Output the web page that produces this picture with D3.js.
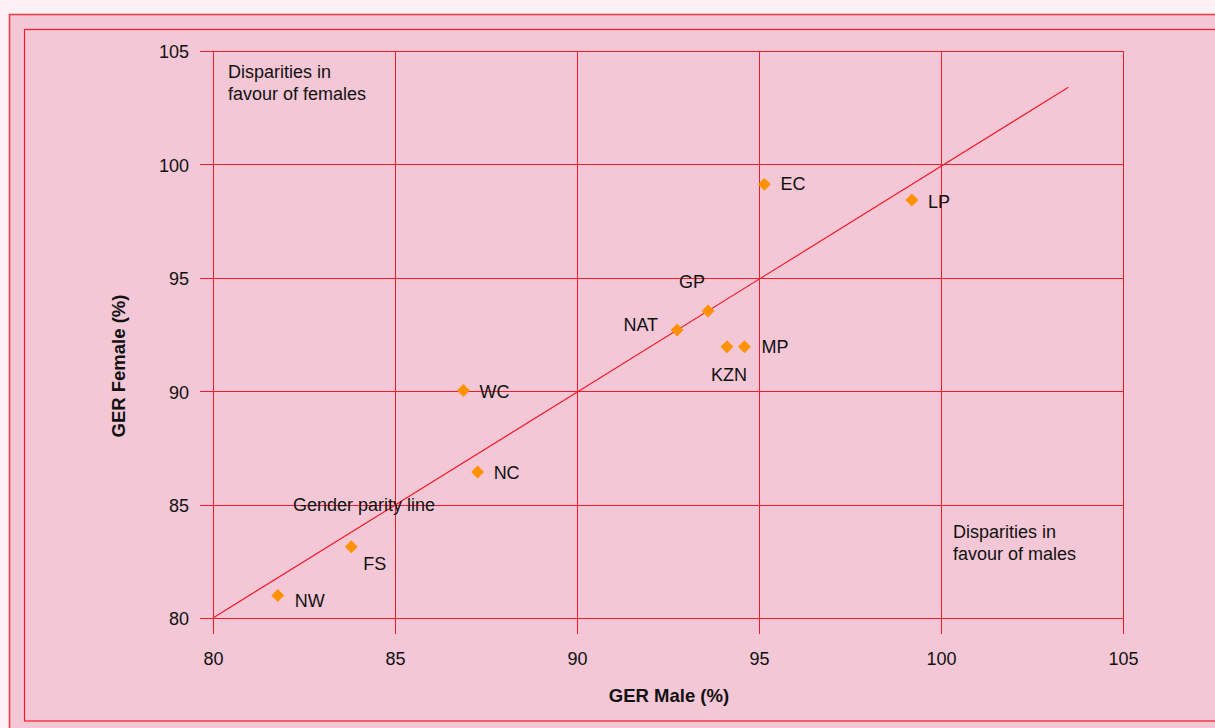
<!DOCTYPE html>
<html>
<head>
<meta charset="utf-8">
<script src="https://cdn.jsdelivr.net/npm/d3@7/dist/d3.min.js"></script>
<style>
  html, body { margin: 0; padding: 0; background: #fdf1f6; overflow: hidden; }
  svg { display: block; font-family: "Liberation Sans", Arial, sans-serif; }
</style>
</head>
<body>
<svg id="chart" width="1215" height="728"></svg>
<script>
// ---- data ----
const provinces = ["EC", "LP", "GP", "NAT", "KZN", "MP", "WC", "NC", "FS", "NW"];
const gerMale   = [95.15, 99.2, 93.6, 92.75, 94.12, 94.6, 86.88, 87.27, 83.8, 81.78];
const gerFemale = [99.12, 98.43, 93.54, 92.70, 91.96, 91.96, 90.03, 86.44, 83.14, 80.99];
const xTicks = [80, 85, 90, 95, 100, 105];
const yTicks = [80, 85, 90, 95, 100, 105];
const parityLine = [[80, 80], [103.5, 103.4]];
const annotationFemales = ["Disparities in", "favour of females"];
const annotationMales = ["Disparities in", "favour of males"];
const parityLabel = "Gender parity line";
const xTitle = "GER Male (%)";
const yTitle = "GER Female (%)";

// label placement (styling, not data): [dx, dy, anchor]
const labelPlacement = {
  EC: [16, 6, "start"], LP: [16, 8, "start"], GP: [-16, -23, "middle"],
  NAT: [-19, 1, "end"], KZN: [2, 34, "middle"], MP: [17, 6, "start"],
  WC: [16, 7, "start"], NC: [16, 7, "start"], FS: [12, 23, "start"], NW: [17, 11, "start"]
};

const svg = d3.select("#chart");
const red = "#f01c28";
const fs = 18;

// panel background and borders
svg.append("rect").attr("x", 9.5).attr("y", 14.5).attr("width", 1240).attr("height", 740)
  .attr("fill", "#f4c7d6").attr("stroke", "#ef3f4c").attr("stroke-width", 1.6);
svg.append("rect").attr("x", 24.5).attr("y", 29.5).attr("width", 1220).attr("height", 691.5)
  .attr("fill", "none").attr("stroke", red).attr("stroke-width", 1.2);

const x = d3.scaleLinear().domain([80, 105]).range([213, 1123]);
const y = d3.scaleLinear().domain([80, 105]).range([618, 51]);

// grid lines via axes
const yGrid = svg.append("g").attr("transform", "translate(200,0)")
  .call(d3.axisLeft(y).tickValues(yTicks).tickSize(-(1123 - 200)).tickFormat(""));
const xGrid = svg.append("g").attr("transform", "translate(0,51)")
  .call(d3.axisTop(x).tickValues(xTicks).tickSize(-(634 - 51)).tickFormat(""));
[yGrid, xGrid].forEach(g => {
  g.select(".domain").remove();
  g.selectAll("line").attr("stroke", red).attr("stroke-width", 1)
    .attr("shape-rendering", "crispEdges");
});

// tick labels via axes
const yAx = svg.append("g").attr("transform", "translate(213,0)")
  .call(d3.axisLeft(y).tickValues(yTicks).tickSize(0).tickPadding(24));
const xAx = svg.append("g").attr("transform", "translate(0,618)")
  .call(d3.axisBottom(x).tickValues(xTicks).tickSize(0).tickPadding(34));
[yAx, xAx].forEach(g => {
  g.select(".domain").remove();
  g.selectAll("text").attr("font-size", fs).attr("fill", "#111")
    .attr("font-family", "'Liberation Sans', Arial, sans-serif");
});
yAx.selectAll("text").attr("dy", "0.38em");

// parity line
svg.append("line")
  .attr("x1", x(parityLine[0][0])).attr("y1", y(parityLine[0][1]))
  .attr("x2", x(parityLine[1][0])).attr("y2", y(parityLine[1][1]))
  .attr("stroke", red).attr("stroke-width", 1.2);

// points
const pts = provinces.map((p, i) => ({ name: p, m: gerMale[i], f: gerFemale[i] }));
svg.append("g").selectAll("path").data(pts).join("path")
  .attr("d", d3.symbol(d3.symbolSquare, 84))
  .attr("transform", d => `translate(${x(d.m)},${y(d.f)}) rotate(45)`)
  .attr("fill", "#ff9204");

svg.append("g").selectAll("text").data(pts).join("text")
  .attr("x", d => x(d.m) + labelPlacement[d.name][0])
  .attr("y", d => y(d.f) + labelPlacement[d.name][1])
  .attr("text-anchor", d => labelPlacement[d.name][2])
  .attr("font-size", fs).attr("fill", "#111")
  .text(d => d.name);

// annotations
function multiline(lines, x0, y0) {
  const t = svg.append("text").attr("x", x0).attr("y", y0).attr("font-size", fs).attr("fill", "#111");
  lines.forEach((l, i) => t.append("tspan").attr("x", x0).attr("dy", i ? 21.5 : 0).text(l));
}
multiline(annotationFemales, 228, 78);
multiline(annotationMales, 953, 538);
svg.append("text").attr("x", 293).attr("y", 511).attr("font-size", fs).attr("fill", "#111").text(parityLabel);

// axis titles
svg.append("text").attr("x", 669).attr("y", 702).attr("text-anchor", "middle")
  .attr("font-size", 18.5).attr("font-weight", "bold").attr("fill", "#111").text(xTitle);
svg.append("text").attr("transform", "translate(125,366) rotate(-90)").attr("text-anchor", "middle")
  .attr("font-size", 18.5).attr("font-weight", "bold").attr("fill", "#111").text(yTitle);
</script>
</body>
</html>
